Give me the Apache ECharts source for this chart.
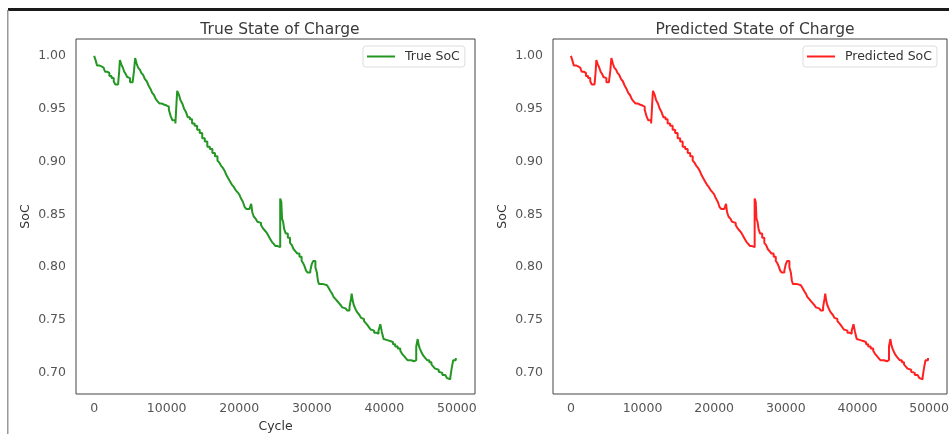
<!DOCTYPE html>
<html>
<head>
<meta charset="utf-8">
<script src="https://cdn.jsdelivr.net/npm/echarts@6/dist/echarts.min.js"></script>
<style>
html,body{margin:0;padding:0;background:#fff;}
#soc_chart{width:949px;height:434px;}
</style>
</head>
<body>
<div id="soc_chart"></div>
<script>
//cycle numbers and state of charge
var cycles=[0,200,400,700,1000,1300,1500,1800,2100,2400,
	2700,2900,3300,3450,3550,3750,3950,4150,4350,4550,
	4750,4950,5300,5500,5650,5850,6050,6300,6500,6750,
	7000,7250,7500,7750,8000,8250,8500,8750,9000,9300,
	9600,10000,10300,10550,10800,11200,11350,11450,11700,11900,
	12150,12400,12650,12900,13200,13500,13850,14200,14550,14900,
	15250,15600,15950,16300,16650,17000,17250,17500,17750,18000,
	18250,18500,18750,19000,19250,19500,19750,20000,20250,20500,
	20750,21000,21400,21650,21800,22000,22250,22500,22750,23000,
	23250,23500,23750,24000,24250,24500,24750,25000,25300,25550,
	25650,25800,25900,26050,26200,26400,26700,27000,27250,27500,
	27750,28000,28300,28600,28800,29000,29200,29400,29800,30000,
	30200,30500,30700,30850,31000,31300,31600,31850,32100,32350,
	32600,32800,33000,33250,33500,33750,34000,34200,34400,34650,
	34900,35200,35400,35500,35650,35800,36050,36300,36550,36800,
	37000,37200,37450,37700,37900,38100,38350,38600,38900,39200,
	39450,39650,39900,40150,40400,40650,40900,41200,41500,41850,
	42200,42450,42700,42950,43200,43700,44100,44400,44600,44750,
	44900,45150,45400,45650,45900,46200,46500,46750,47000,47250,
	47500,47750,48000,48400,48650,48900,49100,49300,49500,49850];
var trueSoc=[1.000,0.996,0.991,0.990,0.989,0.988,0.985,0.984,0.981,0.979,
	0.976,0.973,0.973,0.985,0.996,0.992,0.989,0.985,0.983,0.980,
	0.979,0.975,0.974,0.986,0.998,0.993,0.989,0.987,0.984,0.982,
	0.978,0.976,0.972,0.969,0.965,0.963,0.959,0.957,0.955,0.954,
	0.953,0.952,0.949,0.943,0.939,0.936,0.955,0.967,0.963,0.958,
	0.955,0.950,0.947,0.942,0.940,0.936,0.934,0.930,0.927,0.922,
	0.919,0.914,0.912,0.908,0.905,0.901,0.899,0.896,0.894,0.891,
	0.887,0.884,0.881,0.878,0.876,0.873,0.871,0.869,0.865,0.862,
	0.857,0.855,0.855,0.860,0.852,0.848,0.846,0.843,0.842,0.840,
	0.837,0.835,0.833,0.830,0.827,0.824,0.822,0.820,0.819,0.819,
	0.865,0.862,0.846,0.843,0.836,0.832,0.828,0.823,0.821,0.817,
	0.815,0.813,0.810,0.806,0.804,0.801,0.797,0.795,0.797,0.803,
	0.806,0.800,0.795,0.787,0.784,0.784,0.783,0.783,0.782,0.780,
	0.777,0.775,0.772,0.770,0.768,0.766,0.764,0.762,0.761,0.760,
	0.759,0.762,0.770,0.775,0.768,0.764,0.760,0.757,0.755,0.752,
	0.751,0.749,0.747,0.745,0.743,0.741,0.740,0.738,0.737,0.740,
	0.746,0.739,0.732,0.731,0.730,0.730,0.729,0.727,0.725,0.723,
	0.721,0.718,0.716,0.714,0.712,0.711,0.712,0.725,0.732,0.726,
	0.723,0.719,0.716,0.714,0.712,0.710,0.708,0.706,0.704,0.703,
	0.701,0.700,0.698,0.697,0.695,0.694,0.696,0.705,0.712,0.714];
//the prediction sits on top of the true curve in the picture
var predictedSoc=trueSoc.slice();
var xTicks=[0,10000,20000,30000,40000,50000];
var yTicks=[0.70,0.75,0.80,0.85,0.90,0.95,1.00];

function pairs(xs,ys){
	var out=[];
	for(var i=0;i<xs.length;i++){out.push([xs[i],ys[i]]);}
	return out;
}

var font="DejaVu Sans";
function xAxisOf(idx,name){
	return {
		type:'value',
		gridIndex:idx,
		min:-2500,
		max:52500,
		name:name,
		nameLocation:'middle',
		nameGap:26,
		nameTextStyle:{color:"#333",fontSize:12.5,fontFamily:font},
		axisLine:{show:false},
		axisTick:{show:false},
		splitLine:{show:false},
		axisLabel:{
			customValues:xTicks,
			margin:8,
			color:"#555",
			fontSize:12.5,
			fontFamily:font,
			formatter:function(v){return String(v);}
		}
	};
}
function yAxisOf(idx){
	return {
		type:'value',
		gridIndex:idx,
		min:0.68,
		max:1.016,
		name:"SoC",
		nameLocation:'middle',
		nameGap:44,
		nameTextStyle:{color:"#333",fontSize:12.5,fontFamily:font},
		axisLine:{show:false},
		axisTick:{show:false},
		splitLine:{show:false},
		axisLabel:{
			customValues:yTicks,
			margin:10,
			color:"#555",
			fontSize:12.5,
			fontFamily:font,
			formatter:function(v){return v.toFixed(2);}
		}
	};
}

var soc_chart=echarts.init(document.getElementById('soc_chart'));
option={
	backgroundColor:"#fff",
	animation:false,
	title:[
		{
			text:"True State of Charge",
			left:275,
			top:17,
			textAlign:'center',
			textStyle:{color:"#3a3a3a",fontSize:15.5,fontWeight:'normal',fontFamily:font}
		},
		{
			text:"Predicted State of Charge",
			left:750,
			top:17,
			textAlign:'center',
			textStyle:{color:"#3a3a3a",fontSize:15.5,fontWeight:'normal',fontFamily:font}
		}
	],
	legend:[
		{
			data:["True SoC"],
			left:363,
			top:46,
			icon:'rect',
			itemWidth:28,
			itemHeight:2,
			padding:[4,5,4,4],
			borderColor:"#ddd",
			borderWidth:1,
			borderRadius:3,
			textStyle:{color:"#333",fontSize:12.5,fontFamily:font,padding:[0,0,0,5]}
		},
		{
			data:["Predicted SoC"],
			left:803,
			top:46,
			icon:'rect',
			itemWidth:28,
			itemHeight:2,
			padding:[4,5,4,4],
			borderColor:"#ddd",
			borderWidth:1,
			borderRadius:3,
			textStyle:{color:"#333",fontSize:12.5,fontFamily:font,padding:[0,0,0,5]}
		}
	],
	grid:[
		{left:76,top:39,width:399,height:355,outerBoundsMode:'none',show:true,borderColor:"#444",borderWidth:1},
		{left:553,top:39,width:394,height:355,outerBoundsMode:'none',show:true,borderColor:"#444",borderWidth:1}
	],
	xAxis:[xAxisOf(0,"Cycle"),xAxisOf(1,"")],
	yAxis:[yAxisOf(0),yAxisOf(1)],
	series:[
		{
			name:"True SoC",
			type:'line',
			xAxisIndex:0,
			yAxisIndex:0,
			step:'end',
			showSymbol:false,
			data:pairs(cycles,trueSoc),
			lineStyle:{width:2,color:"#239623"},
			itemStyle:{color:"#239623"}
		},
		{
			name:"Predicted SoC",
			type:'line',
			xAxisIndex:1,
			yAxisIndex:1,
			step:'end',
			showSymbol:false,
			data:pairs(cycles,predictedSoc),
			lineStyle:{width:2,color:"#ff2020"},
			itemStyle:{color:"#ff2020"}
		}
	],
	graphic:[
		//frame of the screenshot: dark rule on top, grey rule on the left
		{type:'rect',shape:{x:8,y:8,width:941,height:3},style:{fill:"#1a1a1a"}},
		{type:'rect',shape:{x:7,y:10,width:1.5,height:424},style:{fill:"#999"}}
	]
};
soc_chart.setOption(option);
</script>
</body>
</html>
